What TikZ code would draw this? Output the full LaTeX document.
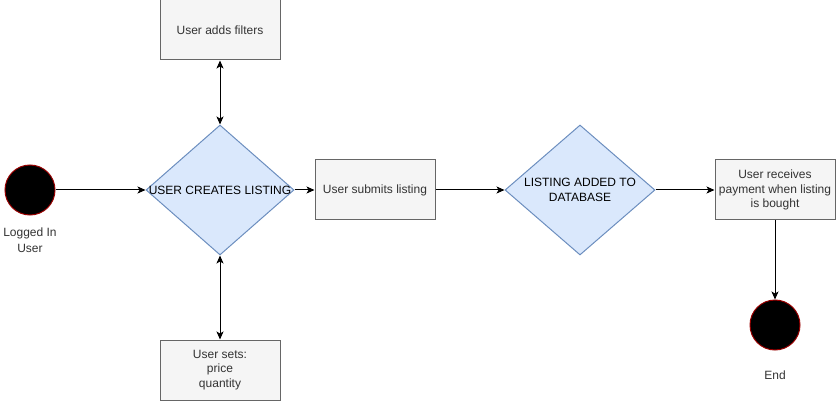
\documentclass[tikz,border=0pt]{standalone}
\usepackage{fontspec}
\setmainfont{Liberation Sans}
\usetikzlibrary{shapes.geometric,arrows.meta}
\definecolor{dfill}{HTML}{DAE8FC}
\definecolor{dline}{HTML}{6C8EBF}
\definecolor{bfill}{HTML}{F5F5F5}
\definecolor{bline}{HTML}{666666}
\definecolor{btext}{HTML}{333333}
\definecolor{cline}{HTML}{990000}
\tikzset{
  boxnode/.style={draw=bline, fill=bfill, text=btext, line width=1pt, minimum width=120pt, minimum height=60pt, inner sep=0pt, align=center, font=\fontsize{12}{14.5}\selectfont},
  decision/.style={diamond, draw=dline, fill=dfill, line width=1pt, inner sep=0pt},
  dtext/.style={align=center, text=black, font=\fontsize{12}{14.5}\selectfont},
  termnode/.style={circle, draw=cline, fill=black, line width=1pt, minimum size=50pt, inner sep=0pt},
  lbl/.style={align=center, text=btext, font=\fontsize{12}{16}\selectfont},
  conn/.style={line width=1pt, -{Stealth[length=8pt,width=7pt,inset=2pt]}},
  dconn/.style={line width=1pt, {Stealth[length=8pt,width=7pt,inset=2pt]}-{Stealth[length=8pt,width=7pt,inset=2pt]}}
}
\begin{document}
\begin{tikzpicture}[x=1pt,y=-1pt]
\useasboundingbox (0,0) rectangle (836,401);
\node[termnode] (start) at (30,190) {};
\node[lbl] (startlbl) at (30,240) {Logged In\\User};
\node[decision, minimum width=148pt, minimum height=130pt] (d1) at (220,190) {};
\node[dtext] (d1t) at (220,190) {USER CREATES LISTING};
\node[boxnode] (filters) at (220,30) {User adds filters};
\node[boxnode] (sets) at (220,370) {User sets:\\price\\quantity};
\node[boxnode] (submit) at (375,190) {User submits listing};
\node[decision, minimum width=150pt, minimum height=130pt] (d2) at (580,190) {};
\node[dtext] (d2t) at (580,190) {LISTING ADDED TO\\DATABASE};
\node[boxnode] (pay) at (775,190) {User receives\\payment when listing\\is bought};
\node[termnode] (end) at (775,325) {};
\node[lbl] (endlbl) at (775,375) {End};

\draw[conn] (start) -- (d1.west);
\draw[dconn] (filters.south) -- (d1.north);
\draw[dconn] (d1.south) -- (sets.north);
\draw[conn] (d1.east) -- (submit.west);
\draw[conn] (submit.east) -- (d2.west);
\draw[conn] (d2.east) -- (pay.west);
\draw[conn] (pay.south) -- (end.north);
\end{tikzpicture}
\end{document}
